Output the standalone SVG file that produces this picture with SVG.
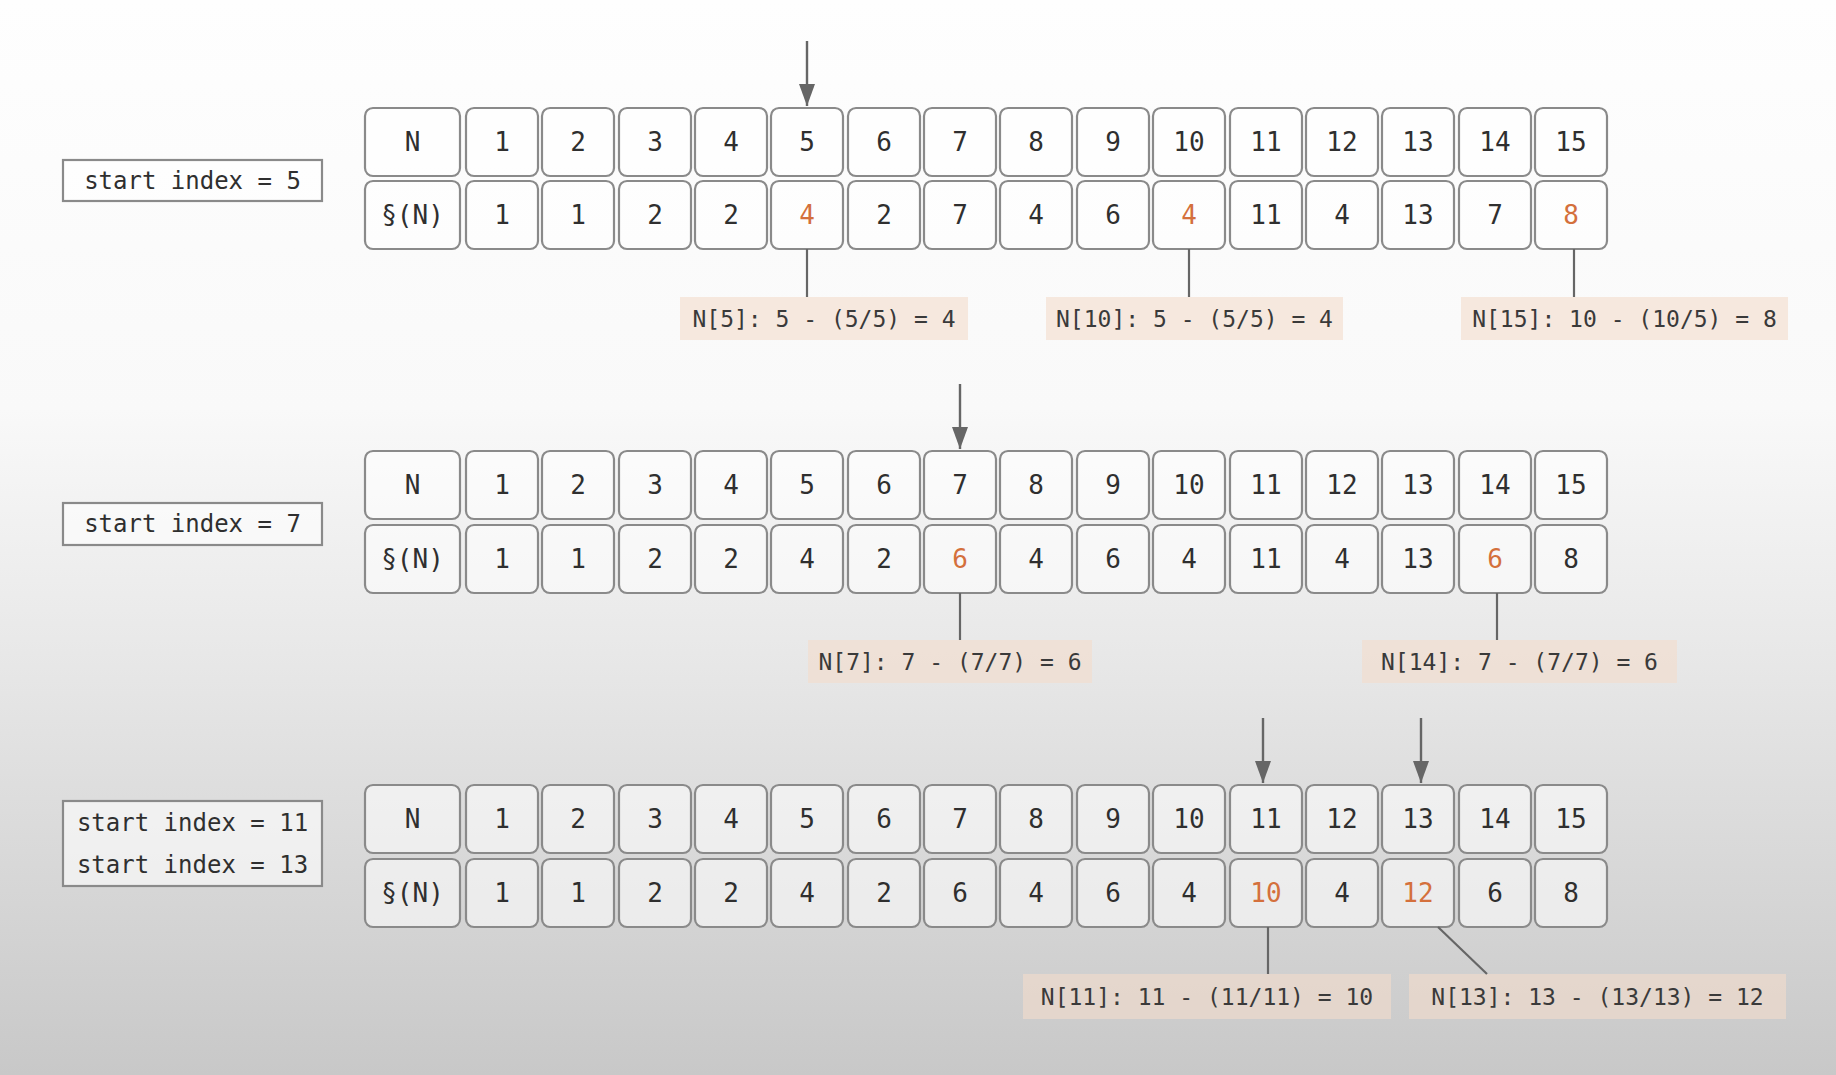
<svg xmlns="http://www.w3.org/2000/svg" width="1836" height="1075" viewBox="0 0 1836 1075">
<defs>
<linearGradient id="bg" x1="0" y1="0" x2="0" y2="1">
<stop offset="0" stop-color="#fefefe"/>
<stop offset="0.38" stop-color="#f9f9f9"/>
<stop offset="0.62" stop-color="#e7e7e7"/>
<stop offset="1" stop-color="#c8c8c8"/>
</linearGradient>
<marker id="ahb" viewBox="0 0 22 16" refX="22" refY="8" markerWidth="22" markerHeight="16" orient="auto" markerUnits="userSpaceOnUse">
<path d="M0,0 L22,8 L0,16 z" fill="#666"/>
</marker>
</defs>
<style>
.c{fill:#ffffff;fill-opacity:0.55;stroke:#8a8a8a;stroke-width:2.2}
.sb{fill:#ffffff;fill-opacity:0.6;stroke:#8a8a8a;stroke-width:2.2}
.lb{fill:#f3dccb;fill-opacity:0.6}
.t{font-family:"DejaVu Sans Mono","Liberation Mono",monospace;font-size:26px;fill:#2f2f2f;text-anchor:middle;dominant-baseline:central}
.st{font-family:"DejaVu Sans Mono","Liberation Mono",monospace;font-size:24px;fill:#2f2f2f;text-anchor:middle;dominant-baseline:central}
.o{fill:#d4703c}
.lt{font-family:"DejaVu Sans Mono","Liberation Mono",monospace;font-size:23px;fill:#3a3a3a;text-anchor:middle;dominant-baseline:central}
.ln{stroke:#666;stroke-width:2.2;fill:none}
.ar{stroke:#666;stroke-width:2.4;fill:none;marker-end:url(#ahb)}
</style>
<rect x="0" y="0" width="1836" height="1075" fill="url(#bg)"/>

<!-- Block 1 -->
<g id="start1"><rect class="sb" x="63" y="160" width="259" height="41"/><text class="st" x="192.5" y="181">start index = 5</text></g>
<g id="table1">
<g id="t1-hdr"><rect class="c" x="365" y="108" width="95" height="68" rx="8"/><text class="t" x="412.5" y="142">N</text>
<rect class="c" x="365" y="181" width="95" height="68" rx="8"/><text class="t" x="412.5" y="215">§(N)</text></g>
<g id="t1-top">
<rect class="c" x="466" y="108" width="72" height="68" rx="8"/><text class="t" x="502" y="142">1</text>
<rect class="c" x="542" y="108" width="72" height="68" rx="8"/><text class="t" x="578" y="142">2</text>
<rect class="c" x="619" y="108" width="72" height="68" rx="8"/><text class="t" x="655" y="142">3</text>
<rect class="c" x="695" y="108" width="72" height="68" rx="8"/><text class="t" x="731" y="142">4</text>
<rect class="c" x="771" y="108" width="72" height="68" rx="8"/><text class="t" x="807" y="142">5</text>
<rect class="c" x="848" y="108" width="72" height="68" rx="8"/><text class="t" x="884" y="142">6</text>
<rect class="c" x="924" y="108" width="72" height="68" rx="8"/><text class="t" x="960" y="142">7</text>
<rect class="c" x="1000" y="108" width="72" height="68" rx="8"/><text class="t" x="1036" y="142">8</text>
<rect class="c" x="1077" y="108" width="72" height="68" rx="8"/><text class="t" x="1113" y="142">9</text>
<rect class="c" x="1153" y="108" width="72" height="68" rx="8"/><text class="t" x="1189" y="142">10</text>
<rect class="c" x="1230" y="108" width="72" height="68" rx="8"/><text class="t" x="1266" y="142">11</text>
<rect class="c" x="1306" y="108" width="72" height="68" rx="8"/><text class="t" x="1342" y="142">12</text>
<rect class="c" x="1382" y="108" width="72" height="68" rx="8"/><text class="t" x="1418" y="142">13</text>
<rect class="c" x="1459" y="108" width="72" height="68" rx="8"/><text class="t" x="1495" y="142">14</text>
<rect class="c" x="1535" y="108" width="72" height="68" rx="8"/><text class="t" x="1571" y="142">15</text>
</g>
<g id="t1-bot">
<rect class="c" x="466" y="181" width="72" height="68" rx="8"/><text class="t" x="502" y="215">1</text>
<rect class="c" x="542" y="181" width="72" height="68" rx="8"/><text class="t" x="578" y="215">1</text>
<rect class="c" x="619" y="181" width="72" height="68" rx="8"/><text class="t" x="655" y="215">2</text>
<rect class="c" x="695" y="181" width="72" height="68" rx="8"/><text class="t" x="731" y="215">2</text>
<rect class="c" x="771" y="181" width="72" height="68" rx="8"/><text class="t o" x="807" y="215">4</text>
<rect class="c" x="848" y="181" width="72" height="68" rx="8"/><text class="t" x="884" y="215">2</text>
<rect class="c" x="924" y="181" width="72" height="68" rx="8"/><text class="t" x="960" y="215">7</text>
<rect class="c" x="1000" y="181" width="72" height="68" rx="8"/><text class="t" x="1036" y="215">4</text>
<rect class="c" x="1077" y="181" width="72" height="68" rx="8"/><text class="t" x="1113" y="215">6</text>
<rect class="c" x="1153" y="181" width="72" height="68" rx="8"/><text class="t o" x="1189" y="215">4</text>
<rect class="c" x="1230" y="181" width="72" height="68" rx="8"/><text class="t" x="1266" y="215">11</text>
<rect class="c" x="1306" y="181" width="72" height="68" rx="8"/><text class="t" x="1342" y="215">4</text>
<rect class="c" x="1382" y="181" width="72" height="68" rx="8"/><text class="t" x="1418" y="215">13</text>
<rect class="c" x="1459" y="181" width="72" height="68" rx="8"/><text class="t" x="1495" y="215">7</text>
<rect class="c" x="1535" y="181" width="72" height="68" rx="8"/><text class="t o" x="1571" y="215">8</text>
</g>
</g>
<g id="lbl1a"><rect class="lb" x="680" y="297" width="288" height="43"/><text class="lt" x="824" y="319">N[5]: 5 - (5/5) = 4</text></g>
<g id="lbl1b"><rect class="lb" x="1046" y="297" width="297" height="43"/><text class="lt" x="1194.5" y="319">N[10]: 5 - (5/5) = 4</text></g>
<g id="lbl1c"><rect class="lb" x="1461" y="297" width="327" height="43"/><text class="lt" x="1624.5" y="319">N[15]: 10 - (10/5) = 8</text></g>

<!-- Block 2 -->
<g id="start2"><rect class="sb" x="63" y="503" width="259" height="42"/><text class="st" x="192.5" y="524">start index = 7</text></g>
<g id="table2">
<g id="t2-hdr"><rect class="c" x="365" y="451" width="95" height="68" rx="8"/><text class="t" x="412.5" y="485">N</text>
<rect class="c" x="365" y="525" width="95" height="68" rx="8"/><text class="t" x="412.5" y="559">§(N)</text></g>
<g id="t2-top">
<rect class="c" x="466" y="451" width="72" height="68" rx="8"/><text class="t" x="502" y="485">1</text>
<rect class="c" x="542" y="451" width="72" height="68" rx="8"/><text class="t" x="578" y="485">2</text>
<rect class="c" x="619" y="451" width="72" height="68" rx="8"/><text class="t" x="655" y="485">3</text>
<rect class="c" x="695" y="451" width="72" height="68" rx="8"/><text class="t" x="731" y="485">4</text>
<rect class="c" x="771" y="451" width="72" height="68" rx="8"/><text class="t" x="807" y="485">5</text>
<rect class="c" x="848" y="451" width="72" height="68" rx="8"/><text class="t" x="884" y="485">6</text>
<rect class="c" x="924" y="451" width="72" height="68" rx="8"/><text class="t" x="960" y="485">7</text>
<rect class="c" x="1000" y="451" width="72" height="68" rx="8"/><text class="t" x="1036" y="485">8</text>
<rect class="c" x="1077" y="451" width="72" height="68" rx="8"/><text class="t" x="1113" y="485">9</text>
<rect class="c" x="1153" y="451" width="72" height="68" rx="8"/><text class="t" x="1189" y="485">10</text>
<rect class="c" x="1230" y="451" width="72" height="68" rx="8"/><text class="t" x="1266" y="485">11</text>
<rect class="c" x="1306" y="451" width="72" height="68" rx="8"/><text class="t" x="1342" y="485">12</text>
<rect class="c" x="1382" y="451" width="72" height="68" rx="8"/><text class="t" x="1418" y="485">13</text>
<rect class="c" x="1459" y="451" width="72" height="68" rx="8"/><text class="t" x="1495" y="485">14</text>
<rect class="c" x="1535" y="451" width="72" height="68" rx="8"/><text class="t" x="1571" y="485">15</text>
</g>
<g id="t2-bot">
<rect class="c" x="466" y="525" width="72" height="68" rx="8"/><text class="t" x="502" y="559">1</text>
<rect class="c" x="542" y="525" width="72" height="68" rx="8"/><text class="t" x="578" y="559">1</text>
<rect class="c" x="619" y="525" width="72" height="68" rx="8"/><text class="t" x="655" y="559">2</text>
<rect class="c" x="695" y="525" width="72" height="68" rx="8"/><text class="t" x="731" y="559">2</text>
<rect class="c" x="771" y="525" width="72" height="68" rx="8"/><text class="t" x="807" y="559">4</text>
<rect class="c" x="848" y="525" width="72" height="68" rx="8"/><text class="t" x="884" y="559">2</text>
<rect class="c" x="924" y="525" width="72" height="68" rx="8"/><text class="t o" x="960" y="559">6</text>
<rect class="c" x="1000" y="525" width="72" height="68" rx="8"/><text class="t" x="1036" y="559">4</text>
<rect class="c" x="1077" y="525" width="72" height="68" rx="8"/><text class="t" x="1113" y="559">6</text>
<rect class="c" x="1153" y="525" width="72" height="68" rx="8"/><text class="t" x="1189" y="559">4</text>
<rect class="c" x="1230" y="525" width="72" height="68" rx="8"/><text class="t" x="1266" y="559">11</text>
<rect class="c" x="1306" y="525" width="72" height="68" rx="8"/><text class="t" x="1342" y="559">4</text>
<rect class="c" x="1382" y="525" width="72" height="68" rx="8"/><text class="t" x="1418" y="559">13</text>
<rect class="c" x="1459" y="525" width="72" height="68" rx="8"/><text class="t o" x="1495" y="559">6</text>
<rect class="c" x="1535" y="525" width="72" height="68" rx="8"/><text class="t" x="1571" y="559">8</text>
</g>
</g>
<g id="lbl2a"><rect class="lb" x="808" y="640" width="284" height="43"/><text class="lt" x="950" y="662">N[7]: 7 - (7/7) = 6</text></g>
<g id="lbl2b"><rect class="lb" x="1362" y="640" width="315" height="43"/><text class="lt" x="1519.5" y="662">N[14]: 7 - (7/7) = 6</text></g>

<!-- Block 3 -->
<g id="start3"><rect class="sb" x="63" y="801" width="259" height="85"/><text class="st" x="192.5" y="823">start index = 11</text><text class="st" x="192.5" y="865">start index = 13</text></g>
<g id="table3">
<g id="t3-hdr"><rect class="c" x="365" y="785" width="95" height="68" rx="8"/><text class="t" x="412.5" y="819">N</text>
<rect class="c" x="365" y="859" width="95" height="68" rx="8"/><text class="t" x="412.5" y="893">§(N)</text></g>
<g id="t3-top">
<rect class="c" x="466" y="785" width="72" height="68" rx="8"/><text class="t" x="502" y="819">1</text>
<rect class="c" x="542" y="785" width="72" height="68" rx="8"/><text class="t" x="578" y="819">2</text>
<rect class="c" x="619" y="785" width="72" height="68" rx="8"/><text class="t" x="655" y="819">3</text>
<rect class="c" x="695" y="785" width="72" height="68" rx="8"/><text class="t" x="731" y="819">4</text>
<rect class="c" x="771" y="785" width="72" height="68" rx="8"/><text class="t" x="807" y="819">5</text>
<rect class="c" x="848" y="785" width="72" height="68" rx="8"/><text class="t" x="884" y="819">6</text>
<rect class="c" x="924" y="785" width="72" height="68" rx="8"/><text class="t" x="960" y="819">7</text>
<rect class="c" x="1000" y="785" width="72" height="68" rx="8"/><text class="t" x="1036" y="819">8</text>
<rect class="c" x="1077" y="785" width="72" height="68" rx="8"/><text class="t" x="1113" y="819">9</text>
<rect class="c" x="1153" y="785" width="72" height="68" rx="8"/><text class="t" x="1189" y="819">10</text>
<rect class="c" x="1230" y="785" width="72" height="68" rx="8"/><text class="t" x="1266" y="819">11</text>
<rect class="c" x="1306" y="785" width="72" height="68" rx="8"/><text class="t" x="1342" y="819">12</text>
<rect class="c" x="1382" y="785" width="72" height="68" rx="8"/><text class="t" x="1418" y="819">13</text>
<rect class="c" x="1459" y="785" width="72" height="68" rx="8"/><text class="t" x="1495" y="819">14</text>
<rect class="c" x="1535" y="785" width="72" height="68" rx="8"/><text class="t" x="1571" y="819">15</text>
</g>
<g id="t3-bot">
<rect class="c" x="466" y="859" width="72" height="68" rx="8"/><text class="t" x="502" y="893">1</text>
<rect class="c" x="542" y="859" width="72" height="68" rx="8"/><text class="t" x="578" y="893">1</text>
<rect class="c" x="619" y="859" width="72" height="68" rx="8"/><text class="t" x="655" y="893">2</text>
<rect class="c" x="695" y="859" width="72" height="68" rx="8"/><text class="t" x="731" y="893">2</text>
<rect class="c" x="771" y="859" width="72" height="68" rx="8"/><text class="t" x="807" y="893">4</text>
<rect class="c" x="848" y="859" width="72" height="68" rx="8"/><text class="t" x="884" y="893">2</text>
<rect class="c" x="924" y="859" width="72" height="68" rx="8"/><text class="t" x="960" y="893">6</text>
<rect class="c" x="1000" y="859" width="72" height="68" rx="8"/><text class="t" x="1036" y="893">4</text>
<rect class="c" x="1077" y="859" width="72" height="68" rx="8"/><text class="t" x="1113" y="893">6</text>
<rect class="c" x="1153" y="859" width="72" height="68" rx="8"/><text class="t" x="1189" y="893">4</text>
<rect class="c" x="1230" y="859" width="72" height="68" rx="8"/><text class="t o" x="1266" y="893">10</text>
<rect class="c" x="1306" y="859" width="72" height="68" rx="8"/><text class="t" x="1342" y="893">4</text>
<rect class="c" x="1382" y="859" width="72" height="68" rx="8"/><text class="t o" x="1418" y="893">12</text>
<rect class="c" x="1459" y="859" width="72" height="68" rx="8"/><text class="t" x="1495" y="893">6</text>
<rect class="c" x="1535" y="859" width="72" height="68" rx="8"/><text class="t" x="1571" y="893">8</text>
</g>
</g>
<g id="lbl3a"><rect class="lb" x="1023" y="974" width="368" height="45"/><text class="lt" x="1207" y="997">N[11]: 11 - (11/11) = 10</text></g>
<g id="lbl3b"><rect class="lb" x="1409" y="974" width="377" height="45"/><text class="lt" x="1597.5" y="997">N[13]: 13 - (13/13) = 12</text></g>

<g id="connectors">
<line class="ar" x1="807" y1="41" x2="807" y2="106"/>
<line class="ar" x1="960" y1="384" x2="960" y2="449"/>
<line class="ar" x1="1263" y1="718" x2="1263" y2="783"/>
<line class="ar" x1="1421" y1="718" x2="1421" y2="783"/>
<line class="ln" x1="807" y1="249" x2="807" y2="297"/>
<line class="ln" x1="1189" y1="249" x2="1189" y2="297"/>
<line class="ln" x1="1574" y1="249" x2="1574" y2="297"/>
<line class="ln" x1="960" y1="593" x2="960" y2="640"/>
<line class="ln" x1="1497" y1="593" x2="1497" y2="640"/>
<line class="ln" x1="1268" y1="927" x2="1268" y2="974"/>
<line class="ln" x1="1438" y1="927" x2="1487" y2="974"/>
</g>
</svg>
